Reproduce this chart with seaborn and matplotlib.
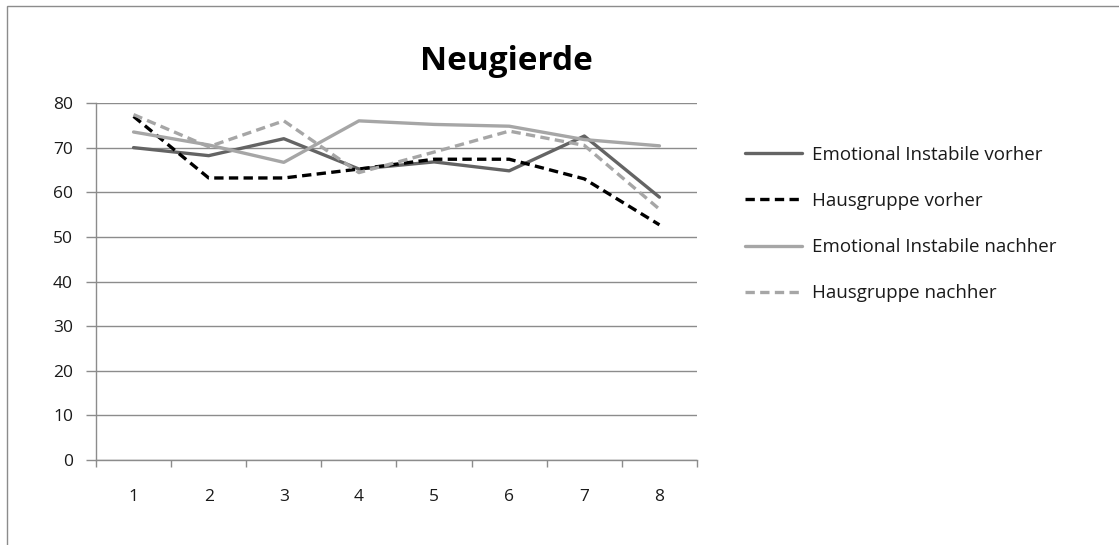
import matplotlib
matplotlib.use("Agg")
import matplotlib.pyplot as plt
from matplotlib.patches import Rectangle
from matplotlib.lines import Line2D
import seaborn as sns
import pandas as pd

# Messzeitpunkte und Mittelwerte der Skala "Neugierde"
zeitpunkte = [1, 2, 3, 4, 5, 6, 7, 8]
emotional_instabile_vorher = [70.0, 68.2, 72.0, 65.2, 66.8, 64.8, 72.6, 58.9]
hausgruppe_vorher = [77.0, 63.2, 63.2, 65.2, 67.4, 67.4, 63.0, 52.7]
emotional_instabile_nachher = [73.5, 70.6, 66.7, 76.0, 75.2, 74.8, 71.8, 70.4]
hausgruppe_nachher = [77.4, 70.2, 76.0, 64.4, 69.0, 73.7, 70.5, 56.2]

y_ticks = [0, 10, 20, 30, 40, 50, 60, 70, 80]
titel = "Neugierde"

reihen = [
    ("Emotional Instabile vorher", emotional_instabile_vorher, "#646464", "-"),
    ("Hausgruppe vorher", hausgruppe_vorher, "#000000", (0, (2.8, 1.6))),
    ("Emotional Instabile nachher", emotional_instabile_nachher, "#a6a6a6", "-"),
    ("Hausgruppe nachher", hausgruppe_nachher, "#a6a6a6", (0, (2.8, 1.6))),
]

sns.set_theme(style="white")
plt.rcParams["font.family"] = ["Open Sans", "DejaVu Sans"]

W, H = 1119, 545
fs_achse = 12.5
fs_legende = 13.5
fig = plt.figure(figsize=(W / 100, H / 100), dpi=100)
fig.patch.set_facecolor("white")

# Rahmen des Diagrammbereichs
fig.patches.append(Rectangle((7 / W, -0.05), 1.2, 1 - 6 / H + 0.05,
                             transform=fig.transFigure, fill=False,
                             edgecolor="#8c8c8c", linewidth=1.0))

ax_l, ax_r, ax_t, ax_b = 96, 697, 103, 460
ax = fig.add_axes([ax_l / W, 1 - ax_b / H, (ax_r - ax_l) / W, (ax_b - ax_t) / H])

gitter = "#8c8c8c"
handles = []
for name, werte, farbe, stil in reihen:
    df = pd.DataFrame({"x": zeitpunkte, "y": werte})
    sns.lineplot(data=df, x="x", y="y", ax=ax, color=farbe, linestyle=stil,
                 linewidth=2.4, legend=False)
    handles.append(Line2D([], [], color=farbe, linestyle=stil, linewidth=2.4, label=name))

ax.set_xlim(0.5, 8.5)
ax.set_ylim(0, 80)
ax.set_yticks(y_ticks)
ax.set_yticklabels([str(v) for v in y_ticks])
ax.yaxis.grid(True, color=gitter, linewidth=1.0)
ax.xaxis.grid(False)
ax.set_axisbelow(True)
ax.set_xlabel("")
ax.set_ylabel("")

# Kategorienachse: Striche zwischen den Kategorien, Beschriftung mittig
ax.set_xticks([k + 0.5 for k in range(0, 9)], minor=False)
ax.set_xticklabels([])
ax.set_xticks(zeitpunkte, minor=True)
ax.set_xticklabels([str(z) for z in zeitpunkte], minor=True)
ax.tick_params(axis="x", which="major", direction="out", length=5, width=1.0,
               color=gitter, bottom=True)
ax.tick_params(axis="x", which="minor", length=0, pad=21, labelsize=fs_achse,
               labelcolor="#1a1a1a")
ax.tick_params(axis="y", direction="out", length=7.2, width=1.0, color=gitter,
               left=True, pad=9.4, labelsize=fs_achse, labelcolor="#1a1a1a")

for side in ["top", "right"]:
    ax.spines[side].set_visible(False)
for side in ["left", "bottom"]:
    ax.spines[side].set_color(gitter)
    ax.spines[side].set_linewidth(1.0)

fig.text(506 / W, 1 - 62 / H, titel, ha="center", va="center",
         fontsize=24, fontweight="bold", color="#000000")

fig.legend(handles=handles, loc="upper left",
           bbox_to_anchor=(728 / W, 1 - 129 / H), frameon=False,
           fontsize=fs_legende, handlelength=3.05, handletextpad=0.53,
           labelspacing=1.5, labelcolor="#1a1a1a")

fig.savefig("out.png", dpi=100)
